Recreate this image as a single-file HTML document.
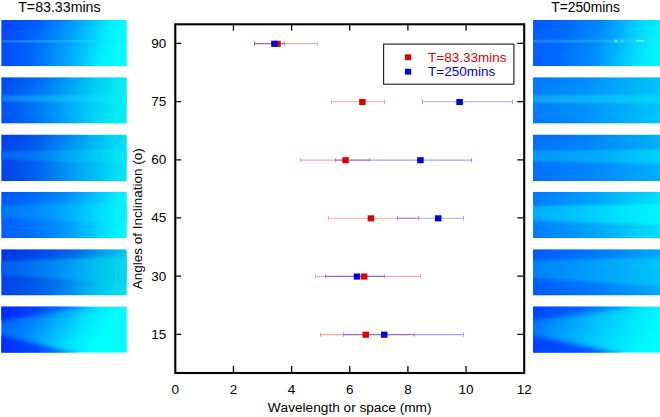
<!DOCTYPE html>
<html lang="en">
<head>
<meta charset="utf-8">
<title>Wavelength vs inclination</title>
<style>
html,body{margin:0;padding:0;background:#fff;}
body{width:660px;height:417px;overflow:hidden;}
svg{display:block;}
text{font-family:"Liberation Sans",Arial,Helvetica,sans-serif;font-kerning:none;}
</style>
</head>
<body>
<svg width="660" height="417" viewBox="0 0 660 417">
<defs>
<linearGradient id="gl0" x1="0" y1="0.45" x2="1" y2="0.55"><stop offset="0" stop-color="#0648ff"/><stop offset="0.25" stop-color="#0064ff"/><stop offset="0.5" stop-color="#0098ff"/><stop offset="0.67" stop-color="#00c4ff"/><stop offset="0.83" stop-color="#00f0ff"/><stop offset="0.94" stop-color="#00feff"/><stop offset="1" stop-color="#00fefe"/></linearGradient>
<linearGradient id="hl0" x1="0" y1="0" x2="1" y2="0"><stop offset="0" stop-color="#247cff"/><stop offset="0.5" stop-color="#1eafff"/><stop offset="0.75" stop-color="#0edaff"/><stop offset="1" stop-color="#00fcfc"/></linearGradient>
<filter id="fl0" x="-10%" y="-60%" width="120%" height="220%" color-interpolation-filters="sRGB"><feGaussianBlur color-interpolation-filters="sRGB" stdDeviation="0.7"/></filter>
<linearGradient id="gl1" x1="0" y1="0.475" x2="1" y2="0.525"><stop offset="0" stop-color="#004ef5"/><stop offset="0.25" stop-color="#006ef8"/><stop offset="0.5" stop-color="#00a0fa"/><stop offset="0.75" stop-color="#00d2f5"/><stop offset="0.92" stop-color="#00eaf2"/><stop offset="1" stop-color="#00ecf2"/></linearGradient>
<linearGradient id="hl1" x1="0" y1="0" x2="1" y2="0"><stop offset="0" stop-color="#147dfa"/><stop offset="0.5" stop-color="#0ab9fa"/><stop offset="0.8" stop-color="#0ae1f6"/><stop offset="1" stop-color="#00eef4"/></linearGradient>
<filter id="fl1" x="-10%" y="-60%" width="120%" height="220%" color-interpolation-filters="sRGB"><feGaussianBlur color-interpolation-filters="sRGB" stdDeviation="1.0"/></filter>
<linearGradient id="gl2" x1="0" y1="0.475" x2="1" y2="0.525"><stop offset="0" stop-color="#0042ec"/><stop offset="0.25" stop-color="#005cf0"/><stop offset="0.5" stop-color="#008cf5"/><stop offset="0.75" stop-color="#00bef6"/><stop offset="0.95" stop-color="#00def4"/><stop offset="1" stop-color="#00e4f2"/></linearGradient>
<linearGradient id="hl2" x1="0" y1="0" x2="1" y2="0"><stop offset="0" stop-color="#0664f2"/><stop offset="0.25" stop-color="#0078f5"/><stop offset="0.5" stop-color="#00a5f8"/><stop offset="0.8" stop-color="#00d4f6"/><stop offset="1" stop-color="#00eef2"/></linearGradient>
<filter id="fl2" x="-10%" y="-60%" width="120%" height="220%" color-interpolation-filters="sRGB"><feGaussianBlur color-interpolation-filters="sRGB" stdDeviation="1.2"/></filter>
<linearGradient id="gl3" x1="0" y1="0.475" x2="1" y2="0.525"><stop offset="0" stop-color="#005eff"/><stop offset="0.25" stop-color="#0072ff"/><stop offset="0.5" stop-color="#0094ff"/><stop offset="0.75" stop-color="#00caff"/><stop offset="0.92" stop-color="#00f0ff"/><stop offset="1" stop-color="#00f8ff"/></linearGradient>
<linearGradient id="hl3" x1="0" y1="0" x2="1" y2="0"><stop offset="0" stop-color="#0076ff"/><stop offset="0.25" stop-color="#0088ff"/><stop offset="0.5" stop-color="#00aaff"/><stop offset="0.8" stop-color="#00e2ff"/><stop offset="1" stop-color="#00faff"/></linearGradient>
<filter id="fl3" x="-10%" y="-60%" width="120%" height="220%" color-interpolation-filters="sRGB"><feGaussianBlur color-interpolation-filters="sRGB" stdDeviation="1.3"/></filter>
<linearGradient id="gl4" x1="0" y1="0.375" x2="1" y2="0.625"><stop offset="0" stop-color="#003ce8"/><stop offset="0.3" stop-color="#0055ec"/><stop offset="0.5" stop-color="#0070ee"/><stop offset="0.75" stop-color="#00aff0"/><stop offset="0.95" stop-color="#00d7ec"/><stop offset="1" stop-color="#00deea"/></linearGradient>
<linearGradient id="hl4" x1="0" y1="0" x2="1" y2="0"><stop offset="0" stop-color="#0060f0"/><stop offset="0.25" stop-color="#0076f2"/><stop offset="0.5" stop-color="#0098f5"/><stop offset="0.75" stop-color="#00c4f0"/><stop offset="1" stop-color="#00daeb"/></linearGradient>
<filter id="fl4" x="-10%" y="-60%" width="120%" height="220%" color-interpolation-filters="sRGB"><feGaussianBlur color-interpolation-filters="sRGB" stdDeviation="1.4"/></filter>
<linearGradient id="gl5" x1="0" y1="0.37" x2="1" y2="0.63"><stop offset="0" stop-color="#0060ff"/><stop offset="0.25" stop-color="#0088ff"/><stop offset="0.48" stop-color="#00c2ff"/><stop offset="0.64" stop-color="#00e8ff"/><stop offset="0.8" stop-color="#00fdff"/><stop offset="1" stop-color="#00ffff"/></linearGradient>
<linearGradient id="tl50" x1="0" y1="0" x2="1" y2="0"><stop offset="0" stop-color="#0026fa"/><stop offset="0.35" stop-color="#0042fe"/><stop offset="0.7" stop-color="#0087ff"/><stop offset="1" stop-color="#00e1ff"/></linearGradient>
<filter id="ftl50" x="-20%" y="-40%" width="140%" height="180%" color-interpolation-filters="sRGB"><feGaussianBlur color-interpolation-filters="sRGB" stdDeviation="2.2"/></filter>
<linearGradient id="tl51" x1="0" y1="0" x2="1" y2="0"><stop offset="0" stop-color="#002cfc"/><stop offset="0.45" stop-color="#0046ff"/><stop offset="1" stop-color="#00b9ff"/></linearGradient>
<filter id="ftl51" x="-20%" y="-40%" width="140%" height="180%" color-interpolation-filters="sRGB"><feGaussianBlur color-interpolation-filters="sRGB" stdDeviation="2.2"/></filter>
<linearGradient id="gr0" x1="0" y1="0.45" x2="1" y2="0.55"><stop offset="0" stop-color="#065cff"/><stop offset="0.25" stop-color="#006eff"/><stop offset="0.5" stop-color="#008cff"/><stop offset="0.65" stop-color="#00afff"/><stop offset="0.8" stop-color="#00d6ff"/><stop offset="0.95" stop-color="#00f0ff"/><stop offset="1" stop-color="#00f4ff"/></linearGradient>
<linearGradient id="hr0" x1="0" y1="0" x2="1" y2="0"><stop offset="0" stop-color="#2887ff"/><stop offset="0.5" stop-color="#24a0ff"/><stop offset="0.8" stop-color="#28d7ff"/><stop offset="1" stop-color="#0af2ff"/></linearGradient>
<filter id="fr0" x="-10%" y="-60%" width="120%" height="220%" color-interpolation-filters="sRGB"><feGaussianBlur color-interpolation-filters="sRGB" stdDeviation="0.7"/></filter>
<linearGradient id="gr1" x1="0" y1="0.5" x2="1" y2="0.5"><stop offset="0" stop-color="#007cfa"/><stop offset="0.4" stop-color="#0092fc"/><stop offset="0.8" stop-color="#00b4fa"/><stop offset="1" stop-color="#00c4fa"/></linearGradient>
<linearGradient id="hr1" x1="0" y1="0" x2="1" y2="0"><stop offset="0" stop-color="#14a0fa"/><stop offset="0.5" stop-color="#0ab9fc"/><stop offset="1" stop-color="#00dafa"/></linearGradient>
<filter id="fr1" x="-10%" y="-60%" width="120%" height="220%" color-interpolation-filters="sRGB"><feGaussianBlur color-interpolation-filters="sRGB" stdDeviation="1.0"/></filter>
<linearGradient id="gr2" x1="0" y1="0.5" x2="1" y2="0.5"><stop offset="0" stop-color="#0072fa"/><stop offset="0.4" stop-color="#0084fc"/><stop offset="0.8" stop-color="#00a0fa"/><stop offset="1" stop-color="#00b0fa"/></linearGradient>
<linearGradient id="hr2" x1="0" y1="0" x2="1" y2="0"><stop offset="0" stop-color="#0696fa"/><stop offset="0.5" stop-color="#02acfc"/><stop offset="1" stop-color="#00d4fa"/></linearGradient>
<filter id="fr2" x="-10%" y="-60%" width="120%" height="220%" color-interpolation-filters="sRGB"><feGaussianBlur color-interpolation-filters="sRGB" stdDeviation="1.0"/></filter>
<linearGradient id="gr3" x1="0" y1="0.5" x2="1" y2="0.5"><stop offset="0" stop-color="#007eff"/><stop offset="0.2" stop-color="#008eff"/><stop offset="0.5" stop-color="#00a8ff"/><stop offset="0.8" stop-color="#00ccff"/><stop offset="1" stop-color="#00deff"/></linearGradient>
<linearGradient id="hr3" x1="0" y1="0" x2="1" y2="0"><stop offset="0" stop-color="#00acff"/><stop offset="0.3" stop-color="#00c4ff"/><stop offset="0.6" stop-color="#00deff"/><stop offset="1" stop-color="#00faff"/></linearGradient>
<filter id="fr3" x="-10%" y="-60%" width="120%" height="220%" color-interpolation-filters="sRGB"><feGaussianBlur color-interpolation-filters="sRGB" stdDeviation="1.2"/></filter>
<linearGradient id="gr4" x1="0" y1="0.5" x2="1" y2="0.5"><stop offset="0" stop-color="#005cfa"/><stop offset="0.4" stop-color="#0074fc"/><stop offset="0.8" stop-color="#0096fa"/><stop offset="1" stop-color="#00a8fa"/></linearGradient>
<linearGradient id="hr4" x1="0" y1="0" x2="1" y2="0"><stop offset="0" stop-color="#0082fa"/><stop offset="0.5" stop-color="#00a2fc"/><stop offset="1" stop-color="#00c6fa"/></linearGradient>
<filter id="fr4" x="-10%" y="-60%" width="120%" height="220%" color-interpolation-filters="sRGB"><feGaussianBlur color-interpolation-filters="sRGB" stdDeviation="1.4"/></filter>
<linearGradient id="gr5" x1="0" y1="0.4" x2="1" y2="0.6"><stop offset="0" stop-color="#0074ff"/><stop offset="0.3" stop-color="#00a6ff"/><stop offset="0.5" stop-color="#00c6ff"/><stop offset="0.7" stop-color="#00e2ff"/><stop offset="0.9" stop-color="#00f6ff"/><stop offset="1" stop-color="#00fcff"/></linearGradient>
<linearGradient id="tr50" x1="0" y1="0" x2="1" y2="0"><stop offset="0" stop-color="#0042ff"/><stop offset="0.4" stop-color="#0064ff"/><stop offset="0.65" stop-color="#0096ff"/><stop offset="0.85" stop-color="#00cdff"/><stop offset="1" stop-color="#00f0ff"/></linearGradient>
<filter id="ftr50" x="-20%" y="-40%" width="140%" height="180%" color-interpolation-filters="sRGB"><feGaussianBlur color-interpolation-filters="sRGB" stdDeviation="2.0"/></filter>
<linearGradient id="tr51" x1="0" y1="0" x2="1" y2="0"><stop offset="0" stop-color="#0040ff"/><stop offset="0.6" stop-color="#0056ff"/><stop offset="1" stop-color="#00aaff"/></linearGradient>
<filter id="ftr51" x="-20%" y="-40%" width="140%" height="180%" color-interpolation-filters="sRGB"><feGaussianBlur color-interpolation-filters="sRGB" stdDeviation="2.0"/></filter>
<linearGradient id="vd" x1="0" y1="0" x2="0" y2="1"><stop offset="0" stop-color="#0028d8" stop-opacity="0.16"/><stop offset="0.25" stop-color="#0028d8" stop-opacity="0"/><stop offset="0.8" stop-color="#0028d8" stop-opacity="0"/><stop offset="1" stop-color="#0028d8" stop-opacity="0.1"/></linearGradient>
<linearGradient id="hm" x1="0" y1="0" x2="1" y2="0"><stop offset="0" stop-color="#fff" stop-opacity="1"/><stop offset="0.5" stop-color="#fff" stop-opacity="0.5"/><stop offset="0.8" stop-color="#fff" stop-opacity="0"/><stop offset="1" stop-color="#fff" stop-opacity="0"/></linearGradient>
<mask id="mk" maskContentUnits="objectBoundingBox"><rect width="1" height="1" fill="url(#hm)"/></mask>
</defs>
<rect width="660" height="417" fill="#fff"/>
<clipPath id="cl0"><rect x="1.2" y="19.9" width="125.6" height="46.4"/></clipPath>
<g clip-path="url(#cl0)">
<rect x="1.2" y="19.9" width="125.6" height="46.4" fill="url(#gl0)"/>
<rect x="1.2" y="19.9" width="125.6" height="46.4" fill="url(#vd)" mask="url(#mk)" opacity="1"/>
<polygon points="-1.8,39.9 126.8,39.9 129.8,39.9 129.8,42.5 126.8,42.5 -1.8,42.5" fill="url(#hl0)" opacity="0.75" filter="url(#fl0)"/>
</g>
<clipPath id="cr0"><rect x="533.0" y="19.9" width="127.0" height="46.4"/></clipPath>
<g clip-path="url(#cr0)">
<rect x="533.0" y="19.9" width="127.0" height="46.4" fill="url(#gr0)"/>
<rect x="533.0" y="19.9" width="127.0" height="46.4" fill="url(#vd)" mask="url(#mk)" opacity="0.5"/>
<polygon points="530.0,39.8 660.0,39.8 663.0,39.8 663.0,42.4 660.0,42.4 530.0,42.4" fill="url(#hr0)" opacity="0.75" filter="url(#fr0)"/>
</g>
<clipPath id="cl1"><rect x="1.2" y="77.2" width="125.6" height="46.4"/></clipPath>
<g clip-path="url(#cl1)">
<rect x="1.2" y="77.2" width="125.6" height="46.4" fill="url(#gl1)"/>
<rect x="1.2" y="77.2" width="125.6" height="46.4" fill="url(#vd)" mask="url(#mk)" opacity="1"/>
<polygon points="-1.8,95.4 126.8,94.8 129.8,94.8 129.8,102.8 126.8,102.8 -1.8,101.6" fill="url(#hl1)" opacity="0.85" filter="url(#fl1)"/>
</g>
<clipPath id="cr1"><rect x="533.0" y="77.2" width="127.0" height="46.4"/></clipPath>
<g clip-path="url(#cr1)">
<rect x="533.0" y="77.2" width="127.0" height="46.4" fill="url(#gr1)"/>
<rect x="533.0" y="77.2" width="127.0" height="46.4" fill="url(#vd)" mask="url(#mk)" opacity="0.5"/>
<polygon points="530.0,95.2 660.0,94.8 663.0,94.8 663.0,103.4 660.0,103.4 530.0,102.8" fill="url(#hr1)" opacity="0.95" filter="url(#fr1)"/>
</g>
<clipPath id="cl2"><rect x="1.2" y="134.5" width="125.6" height="46.5"/></clipPath>
<g clip-path="url(#cl2)">
<rect x="1.2" y="134.5" width="125.6" height="46.5" fill="url(#gl2)"/>
<rect x="1.2" y="134.5" width="125.6" height="46.5" fill="url(#vd)" mask="url(#mk)" opacity="1"/>
<polygon points="-1.8,151.0 126.8,149.5 129.8,149.5 129.8,163.0 126.8,163.0 -1.8,159.5" fill="url(#hl2)" opacity="0.9" filter="url(#fl2)"/>
</g>
<clipPath id="cr2"><rect x="533.0" y="134.5" width="127.0" height="46.5"/></clipPath>
<g clip-path="url(#cr2)">
<rect x="533.0" y="134.5" width="127.0" height="46.5" fill="url(#gr2)"/>
<rect x="533.0" y="134.5" width="127.0" height="46.5" fill="url(#vd)" mask="url(#mk)" opacity="0.5"/>
<polygon points="530.0,150.4 660.0,149.4 663.0,149.4 663.0,163.4 660.0,163.4 530.0,161.3" fill="url(#hr2)" opacity="0.95" filter="url(#fr2)"/>
</g>
<clipPath id="cl3"><rect x="1.2" y="191.8" width="125.6" height="46.4"/></clipPath>
<g clip-path="url(#cl3)">
<rect x="1.2" y="191.8" width="125.6" height="46.4" fill="url(#gl3)"/>
<rect x="1.2" y="191.8" width="125.6" height="46.4" fill="url(#vd)" mask="url(#mk)" opacity="1"/>
<polygon points="-1.8,205.6 126.8,202.3 129.8,202.3 129.8,223.0 126.8,223.0 -1.8,218.6" fill="url(#hl3)" opacity="0.9" filter="url(#fl3)"/>
</g>
<clipPath id="cr3"><rect x="533.0" y="191.8" width="127.0" height="46.4"/></clipPath>
<g clip-path="url(#cr3)">
<rect x="533.0" y="191.8" width="127.0" height="46.4" fill="url(#gr3)"/>
<rect x="533.0" y="191.8" width="127.0" height="46.4" fill="url(#vd)" mask="url(#mk)" opacity="0.5"/>
<polygon points="530.0,206.3 660.0,204.0 663.0,204.0 663.0,224.4 660.0,224.4 530.0,220.6" fill="url(#hr3)" opacity="0.95" filter="url(#fr3)"/>
</g>
<clipPath id="cl4"><rect x="1.2" y="249.2" width="125.6" height="46.3"/></clipPath>
<g clip-path="url(#cl4)">
<rect x="1.2" y="249.2" width="125.6" height="46.3" fill="url(#gl4)"/>
<rect x="1.2" y="249.2" width="125.6" height="46.3" fill="url(#vd)" mask="url(#mk)" opacity="1"/>
<polygon points="-1.8,261.4 126.8,256.6 129.8,256.6 129.8,284.0 126.8,284.0 -1.8,274.8" fill="url(#hl4)" opacity="0.9" filter="url(#fl4)"/>
</g>
<clipPath id="cr4"><rect x="533.0" y="249.2" width="127.0" height="46.3"/></clipPath>
<g clip-path="url(#cr4)">
<rect x="533.0" y="249.2" width="127.0" height="46.3" fill="url(#gr4)"/>
<rect x="533.0" y="249.2" width="127.0" height="46.3" fill="url(#vd)" mask="url(#mk)" opacity="0.5"/>
<polygon points="530.0,260.5 660.0,257.5 663.0,257.5 663.0,286.2 660.0,286.2 530.0,278.0" fill="url(#hr4)" opacity="0.95" filter="url(#fr4)"/>
</g>
<clipPath id="cl5"><rect x="1.2" y="306.6" width="125.6" height="46.1"/></clipPath>
<g clip-path="url(#cl5)">
<rect x="1.2" y="306.6" width="125.6" height="46.1" fill="url(#gl5)"/>
<rect x="1.2" y="306.6" width="125.6" height="46.1" fill="url(#vd)" mask="url(#mk)" opacity="1"/>
<polygon points="-1.8,303.6 107.2,303.6 -1.8,321.1" fill="url(#tl50)" filter="url(#ftl50)"/>
<polygon points="-1.8,334.6 85.2,355.6 -1.8,355.6" fill="url(#tl51)" filter="url(#ftl51)"/>
</g>
<clipPath id="cr5"><rect x="533.0" y="306.6" width="127.0" height="46.1"/></clipPath>
<g clip-path="url(#cr5)">
<rect x="533.0" y="306.6" width="127.0" height="46.1" fill="url(#gr5)"/>
<rect x="533.0" y="306.6" width="127.0" height="46.1" fill="url(#vd)" mask="url(#mk)" opacity="0.5"/>
<polygon points="530.0,303.6 661.0,303.6 530.0,320.6" fill="url(#tr50)" filter="url(#ftr50)"/>
<polygon points="530.0,335.1 631.0,355.6 530.0,355.6" fill="url(#tr51)" filter="url(#ftr51)"/>
</g>
<circle cx="616" cy="41" r="1.7" fill="#7fe4ff" opacity="0.8"/><rect x="636" y="40" width="8" height="2" rx="1" fill="#80f0ff" opacity="0.7"/><rect x="621" y="39.8" width="2.2" height="2.6" fill="#70e0ff" opacity="0.6"/>
<text x="59.4" y="11.9" font-size="14" text-anchor="middle" fill="#000" textLength="82.4" lengthAdjust="spacingAndGlyphs">T=83.33mins</text>
<text x="585.6" y="11.9" font-size="14" text-anchor="middle" fill="#000" textLength="68.6" lengthAdjust="spacingAndGlyphs">T=250mins</text>
<rect x="175.30" y="24.30" width="348.90" height="348.70" fill="none" stroke="#000" stroke-width="2.1"/>
<path d="M233.45 372.00v-6.0 M233.45 25.30v5.2 M291.60 372.00v-6.0 M291.60 25.30v5.2 M349.75 372.00v-6.0 M349.75 25.30v5.2 M407.90 372.00v-6.0 M407.90 25.30v5.2 M466.05 372.00v-6.0 M466.05 25.30v5.2 M176.30 43.40h4.9 M523.20 43.40h-5.9 M176.30 101.60h4.9 M523.20 101.60h-5.9 M176.30 159.80h4.9 M523.20 159.80h-5.9 M176.30 217.95h4.9 M523.20 217.95h-5.9 M176.30 276.15h4.9 M523.20 276.15h-5.9 M176.30 334.30h4.9 M523.20 334.30h-5.9" stroke="#000" stroke-width="1.3" fill="none"/>
<text x="166.2" y="47.8" font-size="13.5" text-anchor="end" fill="#000">90</text>
<text x="166.2" y="106.0" font-size="13.5" text-anchor="end" fill="#000">75</text>
<text x="166.2" y="164.2" font-size="13.5" text-anchor="end" fill="#000">60</text>
<text x="166.2" y="222.3" font-size="13.5" text-anchor="end" fill="#000">45</text>
<text x="166.2" y="280.5" font-size="13.5" text-anchor="end" fill="#000">30</text>
<text x="166.2" y="338.7" font-size="13.5" text-anchor="end" fill="#000">15</text>
<text x="175.3" y="394.2" font-size="13.5" text-anchor="middle" fill="#000">0</text>
<text x="233.5" y="394.2" font-size="13.5" text-anchor="middle" fill="#000">2</text>
<text x="291.6" y="394.2" font-size="13.5" text-anchor="middle" fill="#000">4</text>
<text x="349.8" y="394.2" font-size="13.5" text-anchor="middle" fill="#000">6</text>
<text x="407.9" y="394.2" font-size="13.5" text-anchor="middle" fill="#000">8</text>
<text x="466.1" y="394.2" font-size="13.5" text-anchor="middle" fill="#000">10</text>
<text x="524.2" y="394.2" font-size="13.5" text-anchor="middle" fill="#000">12</text>
<text x="349.6" y="412.2" font-size="13.65" text-anchor="middle" fill="#000">Wavelength or space (mm)</text>
<text transform="translate(141.6 218.7) rotate(-90)" font-size="13.5" text-anchor="middle" fill="#000">Angles of Inclination (o)</text>
<path d="M254.5 43.6H317.5M254.5 41.4v4.4M317.5 41.4v4.4" stroke="#ff0000" stroke-width="1.1" stroke-opacity="0.36" fill="none"/>
<path d="M254.5 43.6H284.5M254.5 41.4v4.4M284.5 41.4v4.4" stroke="#0000ff" stroke-width="1.1" stroke-opacity="0.36" fill="none"/>
<rect x="274.25" y="40.75" width="6.5" height="6.1" fill="#e00000"/>
<rect x="271.15" y="40.75" width="6.5" height="6.1" fill="#0000dd"/>
<path d="M331.5 101.8H384.5M331.5 99.6v4.4M384.5 99.6v4.4" stroke="#ff0000" stroke-width="1.1" stroke-opacity="0.36" fill="none"/>
<path d="M422.5 101.8H512.5M422.5 99.6v4.4M512.5 99.6v4.4" stroke="#0000ff" stroke-width="1.1" stroke-opacity="0.36" fill="none"/>
<rect x="359.15" y="98.95" width="6.5" height="6.1" fill="#e00000"/>
<rect x="456.35" y="98.95" width="6.5" height="6.1" fill="#0000dd"/>
<path d="M300.5 160.1H369.5M300.5 157.9v4.4M369.5 157.9v4.4" stroke="#ff0000" stroke-width="1.1" stroke-opacity="0.36" fill="none"/>
<path d="M335.5 160.1H471.5M335.5 157.9v4.4M471.5 157.9v4.4" stroke="#0000ff" stroke-width="1.1" stroke-opacity="0.36" fill="none"/>
<rect x="342.25" y="157.15" width="6.5" height="6.1" fill="#e00000"/>
<rect x="417.15" y="157.15" width="6.5" height="6.1" fill="#0000dd"/>
<path d="M328.5 218.2H418.5M328.5 216.0v4.4M418.5 216.0v4.4" stroke="#ff0000" stroke-width="1.1" stroke-opacity="0.36" fill="none"/>
<path d="M397.5 218.2H463.5M397.5 216.0v4.4M463.5 216.0v4.4" stroke="#0000ff" stroke-width="1.1" stroke-opacity="0.36" fill="none"/>
<rect x="367.65" y="215.30" width="6.5" height="6.1" fill="#e00000"/>
<rect x="434.95" y="215.30" width="6.5" height="6.1" fill="#0000dd"/>
<path d="M315.5 276.4H420.5M315.5 274.2v4.4M420.5 274.2v4.4" stroke="#ff0000" stroke-width="1.1" stroke-opacity="0.36" fill="none"/>
<path d="M325.5 276.4H384.5M325.5 274.2v4.4M384.5 274.2v4.4" stroke="#0000ff" stroke-width="1.1" stroke-opacity="0.36" fill="none"/>
<rect x="360.95" y="273.50" width="6.5" height="6.1" fill="#e00000"/>
<rect x="353.75" y="273.50" width="6.5" height="6.1" fill="#0000dd"/>
<path d="M320.5 334.6H414.5M320.5 332.4v4.4M414.5 332.4v4.4" stroke="#ff0000" stroke-width="1.1" stroke-opacity="0.36" fill="none"/>
<path d="M343.5 334.6H463.5M343.5 332.4v4.4M463.5 332.4v4.4" stroke="#0000ff" stroke-width="1.1" stroke-opacity="0.36" fill="none"/>
<rect x="362.55" y="331.65" width="6.5" height="6.1" fill="#e00000"/>
<rect x="380.95" y="331.65" width="6.5" height="6.1" fill="#0000dd"/>
<rect x="383.6" y="44.1" width="130.3" height="40.1" fill="#fff" stroke="#1a1a1a" stroke-width="1.1"/>
<rect x="404.9" y="54.3" width="6.3" height="5.8" fill="#e00000"/>
<rect x="404.9" y="68.8" width="6.3" height="5.8" fill="#0000dd"/>
<text x="428.1" y="62.2" font-size="13.5" fill="#e00000">T=83.33mins</text>
<text x="428.1" y="76.3" font-size="13.5" fill="#0000dd">T=250mins</text>
</svg>
</body>
</html>
